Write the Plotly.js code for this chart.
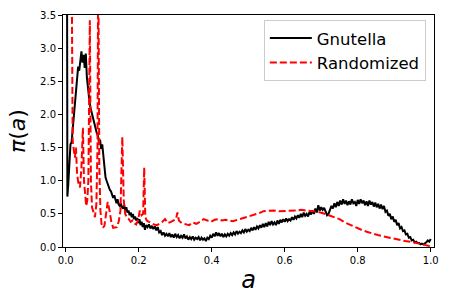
<!DOCTYPE html>
<html>
<head>
<meta charset="utf-8">
<script src="https://cdn.plot.ly/plotly-3.0.1.min.js"></script>
<style>html,body{margin:0;padding:0;background:#fff;}#chart{width:451px;height:301px;}</style>
</head>
<body>
<div id="chart"></div>
<script>
// Gnutella (black solid)
var gnutellaA = [0.0035,0.0045,0.007,0.010,0.013,0.016,0.019,0.022,0.025,0.028,0.031,0.034,0.037,0.040,0.043,0.046,0.049,0.052,0.055,0.058,0.061,0.064,0.067,0.070,0.073,0.076,0.079,0.082,0.085,0.088,0.091,0.094,0.097,0.100,0.103,0.106,0.109,0.112,0.115,0.118,0.121,0.124,0.127,0.130,0.133,0.136,0.139,0.142,0.145,0.148,0.151,0.154,0.157,0.160,0.163,0.166,0.169,0.172,0.175,0.178,0.181,0.184,0.187,0.190,0.193,0.196,0.199,0.202,0.205,0.208,0.211,0.214,0.217,0.220,0.224,0.228,0.232,0.236,0.240,0.244,0.248,0.252,0.256,0.260,0.264,0.268,0.272,0.276,0.280,0.284,0.288,0.292,0.296,0.300,0.304,0.308,0.312,0.316,0.320,0.324,0.328,0.332,0.336,0.340,0.344,0.348,0.352,0.356,0.360,0.364,0.368,0.372,0.376,0.380,0.384,0.388,0.392,0.396,0.400,0.404,0.408,0.412,0.416,0.420,0.424,0.428,0.432,0.436,0.440,0.444,0.448,0.452,0.456,0.460,0.464,0.468,0.472,0.476,0.480,0.484,0.488,0.492,0.496,0.500,0.504,0.508,0.512,0.516,0.520,0.524,0.528,0.532,0.536,0.540,0.544,0.548,0.552,0.556,0.560,0.564,0.568,0.572,0.576,0.580,0.584,0.588,0.592,0.596,0.600,0.604,0.608,0.612,0.616,0.620,0.624,0.628,0.632,0.636,0.640,0.644,0.648,0.652,0.656,0.660,0.664,0.668,0.672,0.676,0.680,0.684,0.688,0.692,0.696,0.700,0.704,0.708,0.712,0.716,0.720,0.724,0.728,0.732,0.736,0.740,0.744,0.748,0.752,0.756,0.760,0.764,0.768,0.772,0.776,0.780,0.784,0.788,0.792,0.796,0.800,0.804,0.808,0.812,0.816,0.820,0.824,0.828,0.832,0.836,0.840,0.844,0.848,0.852,0.856,0.860,0.864,0.868,0.872,0.876,0.880,0.884,0.888,0.892,0.896,0.900,0.904,0.908,0.912,0.916,0.920,0.924,0.928,0.932,0.936,0.940,0.944,0.948,0.952,0.956,0.960,0.964,0.968,0.972,0.976,0.980,0.984,0.988,0.992,0.996,1.000];
var gnutellaP = [4.5,0.76,0.95,1.35,1.55,1.58,1.78,1.95,2.2,2.45,2.65,2.72,2.66,2.82,2.95,2.78,2.9,2.7,2.92,2.55,2.35,2.25,2.12,2.05,1.98,1.9,1.85,1.78,1.72,1.68,1.58,1.62,1.48,1.55,1.35,1.18,1.05,1.0,0.95,0.9,0.86,0.84,0.78,0.74,0.78,0.7,0.66,0.72,0.64,0.62,0.66,0.6,0.58,0.63,0.55,0.6,0.52,0.55,0.48,0.52,0.45,0.5,0.42,0.46,0.4,0.44,0.36,0.42,0.33,0.38,0.3,0.36,0.26,0.33,0.3,0.34,0.28,0.32,0.27,0.31,0.25,0.3,0.22,0.24,0.18,0.22,0.17,0.2,0.16,0.21,0.15,0.19,0.14,0.2,0.15,0.18,0.13,0.17,0.14,0.19,0.13,0.16,0.11,0.15,0.12,0.16,0.11,0.14,0.12,0.15,0.1,0.14,0.11,0.13,0.09,0.14,0.12,0.17,0.14,0.2,0.16,0.22,0.17,0.21,0.16,0.2,0.15,0.19,0.16,0.2,0.17,0.21,0.18,0.22,0.19,0.24,0.2,0.23,0.21,0.25,0.22,0.27,0.23,0.26,0.24,0.29,0.25,0.3,0.26,0.31,0.28,0.33,0.29,0.35,0.3,0.36,0.31,0.38,0.33,0.39,0.34,0.37,0.33,0.4,0.35,0.41,0.37,0.42,0.38,0.43,0.39,0.42,0.4,0.45,0.41,0.46,0.43,0.48,0.44,0.5,0.45,0.52,0.47,0.5,0.46,0.53,0.49,0.55,0.5,0.58,0.52,0.63,0.55,0.6,0.56,0.59,0.52,0.48,0.5,0.58,0.62,0.58,0.66,0.6,0.68,0.62,0.7,0.64,0.72,0.65,0.7,0.63,0.69,0.64,0.72,0.66,0.68,0.62,0.71,0.65,0.72,0.66,0.7,0.63,0.69,0.62,0.7,0.64,0.68,0.61,0.67,0.6,0.65,0.58,0.64,0.57,0.62,0.53,0.55,0.47,0.5,0.42,0.46,0.38,0.41,0.33,0.36,0.28,0.3,0.24,0.25,0.19,0.2,0.14,0.15,0.1,0.11,0.07,0.08,0.06,0.06,0.04,0.05,0.04,0.05,0.07,0.1,0.08,0.12];

// Randomized (red dashed)
var randomA = [0.011,0.016,0.019,0.022,0.025,0.028,0.031,0.035,0.039,0.043,0.047,0.050,0.053,0.056,0.059,0.062,0.066,0.069,0.072,0.076,0.080,0.084,0.087,0.089,0.092,0.095,0.098,0.102,0.106,0.110,0.115,0.120,0.125,0.130,0.135,0.140,0.145,0.150,0.155,0.159,0.163,0.168,0.173,0.178,0.183,0.188,0.193,0.198,0.203,0.208,0.212,0.215,0.218,0.222,0.228,0.235,0.242,0.250,0.258,0.265,0.272,0.280,0.288,0.295,0.302,0.306,0.310,0.318,0.328,0.338,0.348,0.358,0.368,0.378,0.388,0.398,0.408,0.418,0.428,0.438,0.448,0.458,0.470,0.482,0.494,0.506,0.518,0.530,0.542,0.556,0.570,0.585,0.600,0.615,0.630,0.645,0.660,0.675,0.690,0.705,0.720,0.735,0.750,0.765,0.780,0.795,0.810,0.825,0.840,0.855,0.870,0.885,0.900,0.915,0.930,0.945,0.960,0.975,0.990,1.000];
var randomP = [4.5,4.5,1.6,1.45,1.35,1.5,1.1,0.95,0.9,1.2,1.8,1.0,0.75,0.62,0.7,1.0,3.42,1.0,0.6,0.5,0.45,0.65,1.5,4.5,1.2,0.55,0.35,0.29,0.32,0.48,0.68,0.55,0.38,0.29,0.3,0.3,0.38,0.55,1.66,0.7,0.5,0.44,0.42,0.38,0.4,0.36,0.34,0.4,0.55,0.48,0.5,1.2,0.45,0.4,0.38,0.36,0.34,0.33,0.36,0.38,0.42,0.36,0.38,0.4,0.42,0.52,0.4,0.36,0.34,0.33,0.37,0.35,0.38,0.42,0.4,0.38,0.41,0.42,0.4,0.41,0.4,0.39,0.41,0.43,0.44,0.46,0.48,0.51,0.54,0.55,0.55,0.54,0.54,0.54,0.55,0.56,0.55,0.55,0.53,0.51,0.48,0.45,0.42,0.37,0.33,0.3,0.26,0.23,0.2,0.18,0.16,0.14,0.13,0.11,0.09,0.08,0.06,0.04,0.02,0.01];

var seriesNames = ['Gnutella', 'Randomized'];
var xTickVals = [0.0, 0.2, 0.4, 0.6, 0.8, 1.0];
var xTickText = ['0.0', '0.2', '0.4', '0.6', '0.8', '1.0'];
var yTickVals = [0.0, 0.5, 1.0, 1.5, 2.0, 2.5, 3.0, 3.5];
var yTickText = ['0.0', '0.5', '1.0', '1.5', '2.0', '2.5', '3.0', '3.5'];

var font = 'DejaVu Sans, sans-serif';

var traces = [
  {x: gnutellaA, y: gnutellaP, name: seriesNames[0], type: 'scatter', mode: 'lines',
   line: {color: '#000000', width: 2}},
  {x: randomA, y: randomP, name: seriesNames[1], type: 'scatter', mode: 'lines',
   line: {color: '#ff0000', width: 2, dash: '7px,3px'}}
];

var layout = {
  width: 451, height: 301,
  margin: {l: 63, r: 17, t: 15, b: 54, pad: 0},
  paper_bgcolor: '#ffffff', plot_bgcolor: '#ffffff',
  font: {family: font, size: 10, color: '#000000'},
  showlegend: true,
  legend: {
    x: 0.978, y: 0.979, xanchor: 'right', yanchor: 'top',
    bgcolor: 'rgba(255,255,255,0.8)', bordercolor: '#cccccc', borderwidth: 1,
    font: {family: font, size: 16.5, color: '#000000'},
    itemwidth: 42,
    tracegroupgap: 0
  },
  xaxis: {
    range: [-0.0075, 1.009], tickmode: 'array', tickvals: xTickVals, ticktext: xTickText,
    showgrid: false, zeroline: false, showline: true, mirror: true, linecolor: '#000000', linewidth: 1,
    ticks: 'outside', ticklen: 4, tickwidth: 1, tickcolor: '#000000',
    tickfont: {family: font, size: 10, color: '#000000'},
    title: {text: '<i>a</i>', font: {family: font, size: 24, color: '#000000'}, standoff: 6},
    automargin: false
  },
  yaxis: {
    range: [0, 3.5], tickmode: 'array', tickvals: yTickVals, ticktext: yTickText,
    showgrid: false, zeroline: false, showline: true, mirror: true, linecolor: '#000000', linewidth: 1,
    ticks: 'outside', ticklen: 4, tickwidth: 1, tickcolor: '#000000',
    tickfont: {family: font, size: 10, color: '#000000'},
    title: {text: '<i>π</i>(<i>a</i>)', font: {family: font, size: 22, color: '#000000'}, standoff: 8},
    automargin: false
  }
};

Plotly.newPlot('chart', traces, layout, {displayModeBar: false, staticPlot: true});
</script>
</body>
</html>
